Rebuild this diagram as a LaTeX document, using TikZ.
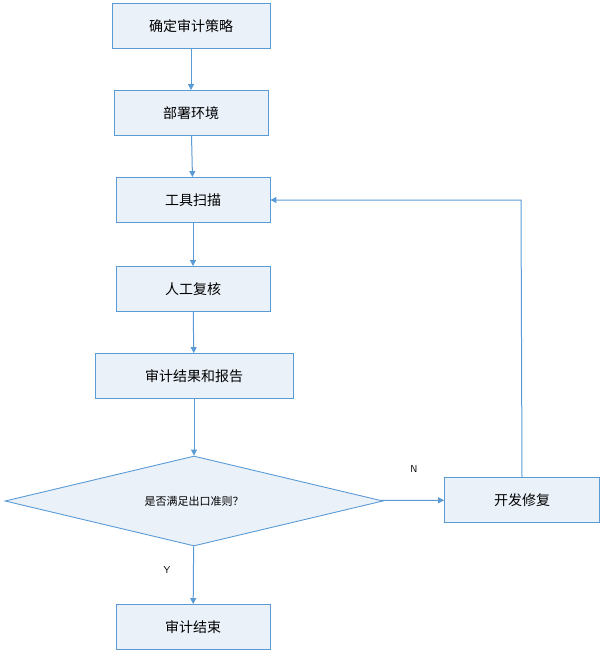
\documentclass[tikz,border=0pt]{standalone}
\usepackage{fontspec}
\setmainfont{Noto Sans CJK SC}
\usetikzlibrary{shapes.geometric,arrows.meta}
\definecolor{flowblue}{RGB}{91,155,213}
\definecolor{flowfill}{RGB}{234,241,249}
\begin{document}
\begin{tikzpicture}[
        x=1pt, y=-1pt,
        % styles for the flow chart
        task/.style={draw=flowblue, fill=flowfill, line width=0.9pt, minimum height=45pt, font=\fontsize{14}{16}\selectfont},
        check/.style={diamond, draw=flowblue, fill=flowfill, line width=0.9pt, aspect=4.2, minimum width=378pt, minimum height=90pt, inner sep=0pt, font=\fontsize{11}{13}\selectfont},
        flow/.style={draw=flowblue, line width=1pt, -{Triangle[length=6pt,width=6pt]}},
        answer/.style={font=\fontsize{10}{12}\selectfont\sffamily}
     ]
    \useasboundingbox (0,0) rectangle (600,651);
    % steps of the audit
    \node[task, minimum width=158pt] (strategy) at (191,26) {确定审计策略};
    \node[task, minimum width=154pt] (deploy) at (191,113) {部署环境};
    \node[task, minimum width=154pt] (scan) at (193,200) {工具扫描};
    \node[task, minimum width=154pt] (review) at (193,289) {人工复核};
    \node[task, minimum width=198pt] (report) at (194,376) {审计结果和报告};
    \node[check] (exit) at (194,501) {是否满足出口准则？};
    \node[task, minimum width=155pt] (fix) at (522,500) {开发修复};
    \node[task, minimum width=154pt] (done) at (193,627) {审计结束};
    \coordinate (corner) at (521,200);
    % connectors
    \draw[flow] (strategy) -- (deploy);
    \draw[flow] (deploy) -- (scan);
    \draw[flow] (scan) -- (review);
    \draw[flow] (review) -- (report);
    \draw[flow] (report) -- (exit);
    \draw[flow] (exit) -- (done);
    \draw[flow] (exit) -- (fix);
    \draw[flow] (fix.north) -- (corner) -- (scan);
    % answers
    \node[answer] (no) at (414,469) {N};
    \node[answer] (yes) at (167,570) {Y};
\end{tikzpicture}
\end{document}
